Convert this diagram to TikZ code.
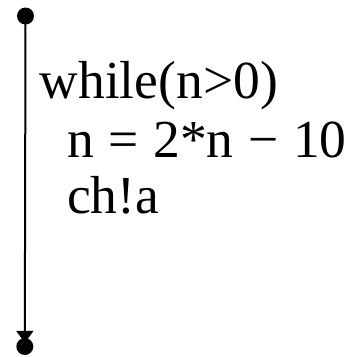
\documentclass[tikz,border=0pt]{standalone}
\usepackage{fontspec}
\setmainfont{Liberation Serif}
\usetikzlibrary{arrows.meta}
\begin{document}
\begin{tikzpicture}[x=1bp,y=-1bp,
  dotnode/.style={circle,fill=black,inner sep=0pt,minimum size=17bp},
  codeline/.style={anchor=base west,inner sep=0pt,font=\fontsize{53.5bp}{57.5bp}\selectfont},
  flow/.style={line width=2bp,-{Triangle[width=17bp,length=12bp]}}]
\useasboundingbox (0,0) rectangle (356,357);
\node[dotnode] (top) at (25.5,16) {};
\node[dotnode] (bot) at (24.8,346.5) {};
\draw[flow,shorten >=-5bp] (top.center) -- (bot);
\node[codeline] (l1) at (39.5,98) {while(n>0)};
\node[codeline] (l2) at (67,157) {\spaceskip=0.274em n = 2*n − 10};
\node[codeline] (l3) at (67,213) {ch!a};
\end{tikzpicture}
\end{document}
